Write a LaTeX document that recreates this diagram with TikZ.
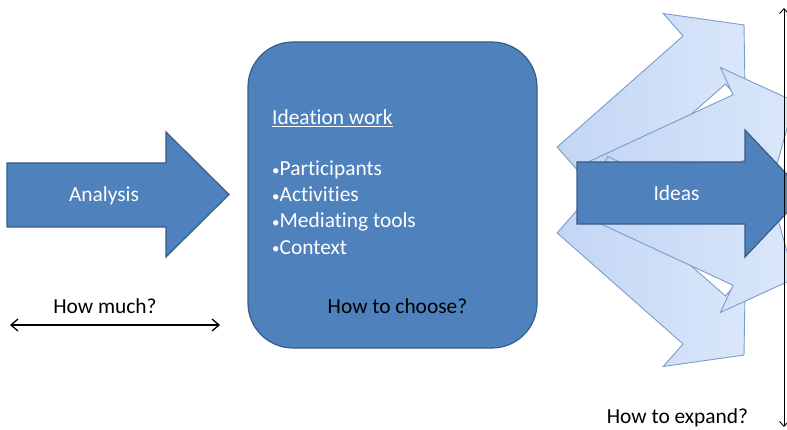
\documentclass[tikz,border=0pt]{standalone}
\usepackage{fontspec}
\setmainfont{Carlito}[Ligatures=NoCommon]
\usetikzlibrary{arrows.meta}
\definecolor{darkblue}{RGB}{79,129,189}
\definecolor{darkedge}{RGB}{56,93,138}
\definecolor{fanlight}{RGB}{218,231,250}
\definecolor{fandark}{RGB}{194,213,244}
\definecolor{fanedge}{RGB}{122,155,204}
\newcommand{\smallbullet}{{\fontsize{15}{26}\selectfont\raisebox{0.5pt}{•}}}

\begin{document}
\begin{tikzpicture}[x=1pt, y=1pt, font=\fontsize{21.4}{26}\selectfont]
\tikzstyle{every node} = [inner sep=0pt]
\tikzstyle{big} = [fill=darkblue, draw=darkedge, line width=1.2pt]
\tikzstyle{fan} = [left color=fandark, right color=fanlight, draw=fanedge, line width=0.9pt]
\tikzstyle{whitetext} = [text=white]
\tikzstyle{barb} = [{Straight Barb[length=7pt,width=12pt]}-{Straight Barb[length=7pt,width=12pt]}]
\useasboundingbox (0,0) rectangle (787,429);
\clip (0,0) rectangle (787,429);

% analysis
\draw[big] (7,202) -- (166,202) -- (166,172) -- (229,234.5) -- (166,297) -- (166,266) -- (7,266) -- cycle;
\node[whitetext, anchor=base] (analysis) at (104,227) {Analysis};
\coordinate (muchL) at (10,104);
\coordinate (muchR) at (220,104);
\draw[barb, line width=1.3pt] (muchL) -- (muchR);
\node[anchor=base] (much) at (105,116) {How much?};

% ideation work
\node[big, rounded corners=45pt, minimum width=289pt, minimum height=306pt] (work) at (392.5,234) {};
\node[whitetext, anchor=base west] (title) at (272,304) {\underline{Ideation work}};
\foreach \what [count=\i] in {Participants, Activities, Mediating tools, Context}
\node[whitetext, anchor=base west] (point\i) at (272, 279-26*\i) {\smallbullet\what};
\node[anchor=base] (choose) at (397.5,116) {How to choose?};

% ideas
\foreach \x/\y/\a in {578.25/257.9/41.4, 578.25/220.1/-41.4, 594.1/234.5/24.9, 594.1/243.5/-24.9}
\draw[fan, shift={(\x,\y)}, rotate=\a] (0,-32) -- (168,-32) -- (168,-62) -- (221,0) -- (168,62) -- (168,32) -- (0,32) -- cycle;
\draw[big] (577,205) -- (745,205) -- (745,172) -- (805,235.5) -- (745,299) -- (745,267) -- (577,267) -- cycle;
\node[whitetext, anchor=base] (ideas) at (676.5,228) {Ideas};
\coordinate (spanT) at (784,421);
\coordinate (spanB) at (784,2);
\draw[{Straight Barb[length=5pt,width=9pt]}-{Straight Barb[length=5pt,width=9pt]}, line width=0.9pt] (spanT) -- (spanB);
\node[anchor=base] (expand) at (677.5,6) {How to expand?};
\end{tikzpicture}
\end{document}
